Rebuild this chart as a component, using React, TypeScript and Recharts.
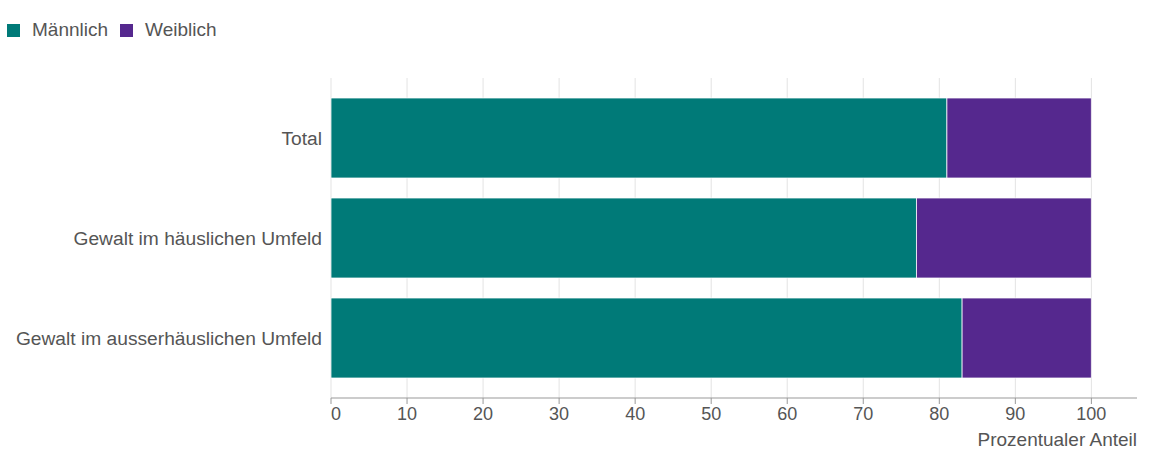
import React from 'react';
import { BarChart, Bar, XAxis, YAxis, CartesianGrid } from 'recharts';

const categories = ['Total', 'Gewalt im häuslichen Umfeld', 'Gewalt im ausserhäuslichen Umfeld'];
const maleValues = [81, 77, 83];
const femaleValues = [19, 23, 17];
const xTicks = [0, 10, 20, 30, 40, 50, 60, 70, 80, 90, 100];
const xDomainMax = 106;
const seriesNames = ['Männlich', 'Weiblich'];
const seriesColors = ['#007A78', '#55288E'];
const axisTitle = 'Prozentualer Anteil';

const data = categories.map((name, i) => ({
  name,
  male: maleValues[i],
  female: femaleValues[i],
}));

const FONT = '"Liberation Sans", Arial, sans-serif';
const TEXT = '#555555';

const XTick = (props: any) => {
  const { x, y, payload } = props;
  const isZero = payload.value === 0;
  return (
    <text x={x} y={y + 16} textAnchor={isZero ? 'start' : 'middle'} fill={TEXT} fontSize={18} fontFamily={FONT}>
      {payload.value}
    </text>
  );
};

const YTick = (props: any) => {
  const { x, y, payload } = props;
  return (
    <text x={x} y={y + 6.5} textAnchor="end" fill={TEXT} fontSize={19.2} fontFamily={FONT}>
      {payload.value}
    </text>
  );
};

const LegendBlock = () => (
  <div style={{ position: 'absolute', left: 7, top: 19, display: 'flex', alignItems: 'center', fontFamily: FONT, fontSize: 19, color: TEXT, lineHeight: '22px' }}>
    {seriesNames.map((n, i) => (
      <div key={n} style={{ display: 'flex', alignItems: 'center', marginRight: 12 }}>
        <span style={{ display: 'inline-block', width: 13, height: 13, background: seriesColors[i], marginRight: 12 }} />
        <span>{n}</span>
      </div>
    ))}
  </div>
);

const AxisTitle = (props: any) => {
  const { viewBox } = props;
  const { x, y, width } = viewBox;
  return (
    <text x={x + width} y={y + 48} textAnchor="end" fill={TEXT} fontSize={19} fontFamily={FONT}>
      {axisTitle}
    </text>
  );
};

const gridGen = (props: any) => {
  const { offset } = props;
  return xTicks.map((t) => offset.left + (t / xDomainMax) * offset.width);
};

export default function App() {
  return (
    <div style={{ position: 'absolute', left: 0, top: 0, width: 1152, height: 460, background: '#fff' }}>
      <BarChart width={1152} height={460} data={data} layout="vertical" margin={{ top: 78, right: 15, left: 0, bottom: 0 }} barSize={80}>
        <CartesianGrid horizontal={false} stroke="#e3e3e3" verticalCoordinatesGenerator={gridGen} />
        <XAxis type="number" domain={[0, xDomainMax]} ticks={xTicks} interval={0} height={62} tick={<XTick />} tickSize={6} tickMargin={0} stroke="#999999" tickLine={{ stroke: '#999999' }} axisLine={{ stroke: '#999999' }} label={<AxisTitle />} allowDataOverflow />
        <YAxis type="category" dataKey="name" width={331} axisLine={false} tickLine={false} tickSize={0} tickMargin={9} tick={<YTick />} padding={{ top: 10, bottom: 10 }} interval={0} />
        <Bar dataKey="male" name={seriesNames[0]} stackId="a" fill={seriesColors[0]} stroke="rgba(255,255,255,0.75)" strokeWidth={1} isAnimationActive={false} />
        <Bar dataKey="female" name={seriesNames[1]} stackId="a" fill={seriesColors[1]} stroke="rgba(255,255,255,0.75)" strokeWidth={1} isAnimationActive={false} />
      </BarChart>
      <LegendBlock />
    </div>
  );
}
